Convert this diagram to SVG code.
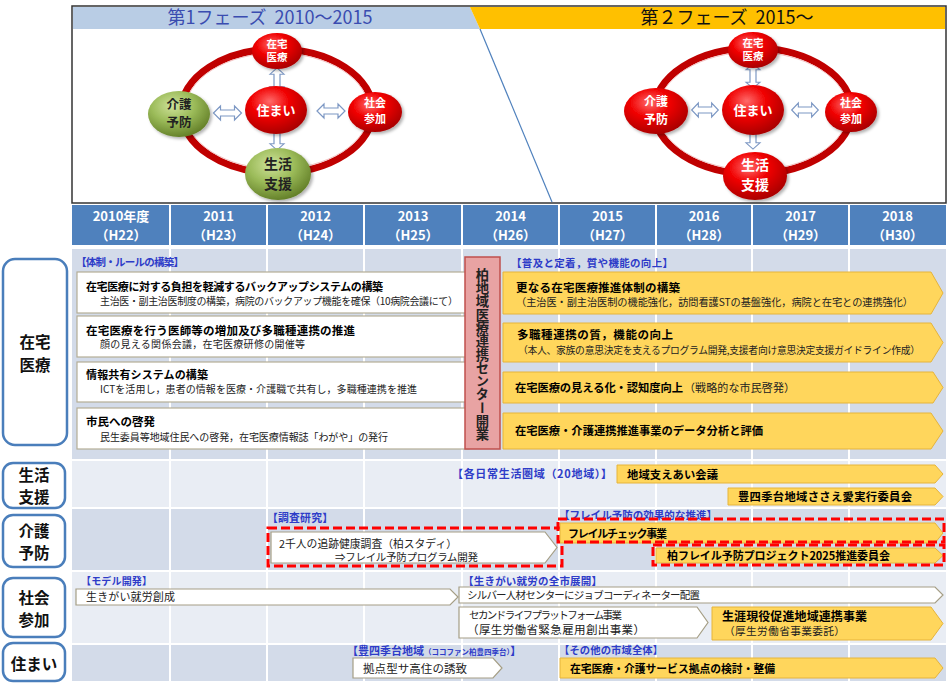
<svg xmlns="http://www.w3.org/2000/svg" width="950" height="683" viewBox="0 0 950 683">
<style>
text{font-family:"Noto Sans CJK JP","Noto Sans",sans-serif;}
.b{font-weight:700}
.lbl{fill:#2e3cc8;font-weight:700}
.yel{fill:#ffd65c;stroke:#e6b43a;stroke-width:1}
.wht{fill:#fff;stroke:#a59e85;stroke-width:1.2}
.box{fill:#fff;stroke:#b4ad96;stroke-width:1.2}
.dash{fill:none;stroke:#ff0000;stroke-width:3;stroke-dasharray:9 4}
.rowlbl{fill:#fff;stroke:#4a7ebb;stroke-width:2.5}
.rl{font-size:15.5px;font-weight:700;fill:#111;text-anchor:middle}
.yr{font-size:13px;font-weight:700;fill:#fff;text-anchor:middle}
.sep{stroke:#fff;stroke-width:2}
.ring{fill:none;stroke:#c00000;stroke-width:7}
.ringhl{fill:none;stroke:#f3c0c0;stroke-width:1}
.dbl{fill:#fff;stroke:#7d98c4;stroke-width:1.2}
.ct{font-weight:700;text-anchor:middle}
.sph{filter:url(#sh)}
</style>
<defs>
<radialGradient id="gr" cx="40%" cy="32%" r="70%">
<stop offset="0" stop-color="#ff6a6a"/><stop offset="0.45" stop-color="#f00000"/><stop offset="1" stop-color="#a80000"/>
</radialGradient>
<radialGradient id="gg" cx="40%" cy="32%" r="70%">
<stop offset="0" stop-color="#cfe29a"/><stop offset="0.5" stop-color="#9bbb59"/><stop offset="1" stop-color="#637f28"/>
</radialGradient>
<filter id="sh" x="-30%" y="-30%" width="160%" height="160%">
<feDropShadow dx="2" dy="2" stdDeviation="1.5" flood-color="#000" flood-opacity="0.3"/>
</filter>
<path id="da" d="M-14,0 L-7,-7 L-7,-3 L7,-3 L7,-7 L14,0 L7,7 L7,3 L-7,3 L-7,7 Z"/>
</defs>

<rect width="950" height="683" fill="#fff"/>

<!-- top panel -->
<g id="phase-panel">
<rect x="72" y="6" width="874" height="197" fill="#fff" stroke="#333" stroke-width="1.5"/>
<polygon points="73,7 470,7 480,29 73,29" fill="#b9cde5"/>
<polygon points="470,7 945,7 945,29 480,29" fill="#ffc000"/>
<line x1="480" y1="29" x2="552" y2="202" stroke="#4f81bd" stroke-width="1.2"/>
<text x="270" y="24" font-size="18" fill="#3a4cb0" text-anchor="middle" xml:space="preserve">第1フェーズ  2010～2015</text>
<text x="727" y="24" font-size="18" fill="#111" text-anchor="middle" xml:space="preserve">第２フェーズ  2015～</text>
</g>

<g id="p1-ring">
<ellipse class="ring" cx="277" cy="111" rx="96" ry="62"/>
<ellipse class="ringhl" cx="277" cy="111" rx="92" ry="58"/>
</g>
<g id="p2-ring">
<ellipse class="ring" cx="753" cy="111" rx="99" ry="63"/>
<ellipse class="ringhl" cx="753" cy="111" rx="95" ry="59"/>
</g>
<g id="connectors">
<use href="#da" class="dbl" transform="translate(277,80.5) rotate(90) scale(0.9,1)"/>
<use href="#da" class="dbl" transform="translate(277,137.5) rotate(90) scale(0.9,1)"/>
<use href="#da" class="dbl" transform="translate(227.5,113)"/>
<use href="#da" class="dbl" transform="translate(331,111)"/>
<use href="#da" class="dbl" transform="translate(753,76) rotate(90) scale(0.88,1)"/>
<use href="#da" class="dbl" transform="translate(753,136.5) rotate(90) scale(0.9,1)"/>
<use href="#da" class="dbl" transform="translate(705,110) scale(0.95,1)"/>
<use href="#da" class="dbl" transform="translate(805,110) scale(0.95,1)"/>
</g>
<g id="p1-zaitaku">
<ellipse class="sph" cx="277" cy="51" rx="25" ry="18" fill="url(#gr)"/>
<text class="ct" x="277" y="48" font-size="10.5" fill="#fff">在宅</text>
<text class="ct" x="277" y="61" font-size="10.5" fill="#fff">医療</text>
</g>
<g id="p1-sumai">
<ellipse class="sph" cx="276" cy="110" rx="31" ry="24" fill="url(#gr)"/>
<text class="ct" x="276" y="115" font-size="13" fill="#fff">住まい</text>
</g>
<g id="p1-kaigo">
<ellipse class="sph" cx="179" cy="114" rx="31" ry="23" fill="url(#gg)"/>
<text class="ct" x="179" y="109" font-size="12.5" fill="#222">介護</text>
<text class="ct" x="179" y="127" font-size="12.5" fill="#222">予防</text>
</g>
<g id="p1-shakai">
<ellipse class="sph" cx="375" cy="112" rx="27" ry="20" fill="url(#gr)"/>
<text class="ct" x="375" y="107" font-size="11" fill="#fff">社会</text>
<text class="ct" x="375" y="123" font-size="11" fill="#fff">参加</text>
</g>
<g id="p1-seikatsu">
<ellipse class="sph" cx="278" cy="174" rx="33" ry="26" fill="url(#gg)"/>
<text class="ct" x="278" y="169" font-size="14" fill="#222">生活</text>
<text class="ct" x="278" y="189" font-size="14" fill="#222">支援</text>
</g>

<g id="p2-zaitaku">
<ellipse class="sph" cx="753" cy="50" rx="25" ry="18" fill="url(#gr)"/>
<text class="ct" x="753" y="47" font-size="10.5" fill="#fff">在宅</text>
<text class="ct" x="753" y="60" font-size="10.5" fill="#fff">医療</text>
</g>
<g id="p2-sumai">
<ellipse class="sph" cx="753" cy="110" rx="31" ry="25" fill="url(#gr)"/>
<text class="ct" x="753" y="115" font-size="13" fill="#fff">住まい</text>
</g>
<g id="p2-kaigo">
<ellipse class="sph" cx="656" cy="111" rx="32" ry="23" fill="url(#gr)"/>
<text class="ct" x="656" y="106" font-size="12" fill="#fff">介護</text>
<text class="ct" x="656" y="124" font-size="12" fill="#fff">予防</text>
</g>
<g id="p2-shakai">
<ellipse class="sph" cx="851" cy="112" rx="26" ry="20" fill="url(#gr)"/>
<text class="ct" x="851" y="107" font-size="11" fill="#fff">社会</text>
<text class="ct" x="851" y="123" font-size="11" fill="#fff">参加</text>
</g>
<g id="p2-seikatsu">
<ellipse class="sph" cx="755" cy="176" rx="32" ry="24" fill="url(#gr)"/>
<text class="ct" x="755" y="170" font-size="14" fill="#fff">生活</text>
<text class="ct" x="755" y="190" font-size="14" fill="#fff">支援</text>
</g>

<!-- year header -->
<g id="years">
<rect x="72" y="205" width="874" height="40" fill="#4f81bd"/>
<line class="sep" x1="170" y1="205" x2="170" y2="245"/>
<line class="sep" x1="267" y1="205" x2="267" y2="245"/>
<line class="sep" x1="364" y1="205" x2="364" y2="245"/>
<line class="sep" x1="462" y1="205" x2="462" y2="245"/>
<line class="sep" x1="559" y1="205" x2="559" y2="245"/>
<line class="sep" x1="656" y1="205" x2="656" y2="245"/>
<line class="sep" x1="752" y1="205" x2="752" y2="245"/>
<line class="sep" x1="849" y1="205" x2="849" y2="245"/>
<text class="yr" x="121" y="221">2010年度</text><text class="yr" x="121" y="240">（H22）</text>
<text class="yr" x="218.5" y="221">2011</text><text class="yr" x="218.5" y="240">（H23）</text>
<text class="yr" x="315.5" y="221">2012</text><text class="yr" x="315.5" y="240">（H24）</text>
<text class="yr" x="413" y="221">2013</text><text class="yr" x="413" y="240">（H25）</text>
<text class="yr" x="510.5" y="221">2014</text><text class="yr" x="510.5" y="240">（H26）</text>
<text class="yr" x="607.5" y="221">2015</text><text class="yr" x="607.5" y="240">（H27）</text>
<text class="yr" x="704" y="221">2016</text><text class="yr" x="704" y="240">（H28）</text>
<text class="yr" x="800.5" y="221">2017</text><text class="yr" x="800.5" y="240">（H29）</text>
<text class="yr" x="897.5" y="221">2018</text><text class="yr" x="897.5" y="240">（H30）</text>
</g>

<!-- body grid -->
<g id="grid">
<rect x="72" y="249" width="874" height="210" fill="#d3dbe9"/>
<rect x="72" y="461" width="874" height="46" fill="#e9edf4"/>
<rect x="72" y="509" width="874" height="61" fill="#d3dbe9"/>
<rect x="72" y="572" width="874" height="71" fill="#e9edf4"/>
<rect x="72" y="645" width="874" height="36" fill="#d3dbe9"/>
<line class="sep" x1="170" y1="249" x2="170" y2="681"/>
<line class="sep" x1="267" y1="249" x2="267" y2="681"/>
<line class="sep" x1="364" y1="249" x2="364" y2="681"/>
<line class="sep" x1="462" y1="249" x2="462" y2="681"/>
<line class="sep" x1="559" y1="249" x2="559" y2="681"/>
<line class="sep" x1="656" y1="249" x2="656" y2="681"/>
<line class="sep" x1="752" y1="249" x2="752" y2="681"/>
<line class="sep" x1="849" y1="249" x2="849" y2="681"/>
</g>

<!-- row labels -->
<g id="row-zaitaku"><rect class="rowlbl" x="3" y="259" width="64" height="186" rx="12"/><text class="rl" x="35" y="348">在宅</text><text class="rl" x="35" y="371">医療</text></g>
<g id="row-seikatsu"><rect class="rowlbl" x="3" y="463" width="62" height="45" rx="10"/><text class="rl" x="34" y="481">生活</text><text class="rl" x="34" y="503">支援</text></g>
<g id="row-kaigo"><rect class="rowlbl" x="3" y="515" width="62" height="52" rx="10"/><text class="rl" x="34" y="537">介護</text><text class="rl" x="34" y="559">予防</text></g>
<g id="row-shakai"><rect class="rowlbl" x="3" y="578" width="62" height="59" rx="10"/><text class="rl" x="34" y="604">社会</text><text class="rl" x="34" y="626">参加</text></g>
<g id="row-sumai"><rect class="rowlbl" x="3" y="643" width="62" height="38" rx="10"/><text class="rl" x="34" y="670">住まい</text></g>

<!-- 在宅医療 left -->
<text class="lbl" x="76" y="266" font-size="10.5" textLength="108">【体制・ルールの構築】</text>
<g id="z1"><rect class="box" x="77" y="272" width="392" height="41"/>
<text class="b" x="86" y="291" font-size="11" textLength="297">在宅医療に対する負担を軽減するバックアップシステムの構築</text>
<text x="100" y="305" font-size="10" fill="#222" textLength="358">主治医・副主治医制度の構築，病院のバックアップ機能を確保（10病院会議にて）</text></g>
<g id="z2"><rect class="box" x="77" y="316" width="392" height="41"/>
<text class="b" x="86" y="335" font-size="11.5" textLength="269">在宅医療を行う医師等の増加及び多職種連携の推進</text>
<text x="100" y="348" font-size="10" fill="#222" textLength="205">顔の見える関係会議，在宅医療研修の開催等</text></g>
<g id="z3"><rect class="box" x="77" y="362" width="392" height="40"/>
<text class="b" x="86" y="379" font-size="11" textLength="122">情報共有システムの構築</text>
<text x="100" y="393" font-size="10" fill="#222" textLength="317">ICTを活用し，患者の情報を医療・介護職で共有し，多職種連携を推進</text></g>
<g id="z4"><rect class="box" x="77" y="408" width="392" height="41"/>
<text class="b" x="86" y="426" font-size="11.5" textLength="69">市民への啓発</text>
<text x="100" y="441" font-size="10" fill="#222" textLength="288">民生委員等地域住民への啓発，在宅医療情報誌「わがや」の発行</text></g>

<!-- center -->
<g id="center">
<rect x="465" y="257" width="35" height="192" fill="#e8a3a3" stroke="#c0504d" stroke-width="1.5"/>
<text x="482.5" y="268" font-size="13.3" class="b" fill="#222" style="writing-mode:vertical-rl;text-orientation:upright">柏地域医療連携センター開業</text>
</g>

<!-- 在宅医療 right -->
<text class="lbl" x="511" y="267" font-size="10.5" textLength="162">【普及と定着，質や機能の向上】</text>
<g id="y1"><polygon class="yel" points="503,272 931,272 943,293 931,314 503,314"/>
<text class="b" x="516" y="292" font-size="11.5" textLength="164">更なる在宅医療推進体制の構築</text>
<text x="516" y="306" font-size="10.2" fill="#222" textLength="397">（主治医・副主治医制の機能強化，訪問看護STの基盤強化，病院と在宅との連携強化）</text></g>
<g id="y2"><polygon class="yel" points="503,323 931,323 943,342.5 931,362 503,362"/>
<text class="b" x="517" y="339" font-size="11.5" textLength="156">多職種連携の質，機能の向上</text>
<text x="518" y="354" font-size="9.8" fill="#222" textLength="402">（本人、家族の意思決定を支えるプログラム開発,支援者向け意思決定支援ガイドライン作成）</text></g>
<g id="y3"><polygon class="yel" points="503,372 933,372 943,387.5 933,403 503,403"/>
<text class="b" x="515" y="392" font-size="11.3" textLength="168">在宅医療の見える化・認知度向上</text>
<text x="684" y="392" font-size="11" fill="#222" textLength="111">（戦略的な市民啓発）</text></g>
<g id="y4"><polygon class="yel" points="503,413 931,413 943,431 931,449 503,449"/>
<text class="b" x="515" y="435" font-size="11.3" textLength="248">在宅医療・介護連携推進事業のデータ分析と評価</text></g>

<!-- 生活支援 -->
<text class="lbl" x="452" y="478" font-size="11" textLength="160">【各日常生活圏域（20地域）】</text>
<g id="s1"><polygon class="yel" points="617,465 935,465 943,474 935,483 617,483"/>
<text class="b" x="627" y="479" font-size="11.3" textLength="91">地域支えあい会議</text></g>
<g id="s2"><polygon class="yel" points="728,488 935,488 943,496.5 935,505 728,505"/>
<text class="b" x="738" y="501" font-size="11.3" textLength="174">豊四季台地域ささえ愛実行委員会</text></g>

<!-- 介護予防 -->
<text class="lbl" x="267" y="522" font-size="10.8" textLength="66">【調査研究】</text>
<text class="lbl" x="559" y="519" font-size="10.5" textLength="158">【フレイル予防の効果的な推進】</text>
<g id="k1"><polygon class="wht" points="271,532 545,532 557,547.5 545,563 271,563"/>
<text x="279" y="548" font-size="10.8" fill="#222" textLength="178">2千人の追跡健康調査（柏スタディ）</text>
<text x="335" y="561" font-size="10.5" fill="#222" textLength="143">⇒フレイル予防プログラム開発</text></g>
<rect class="dash" x="268" y="528" width="294" height="38"/>
<g id="k2"><polygon class="yel" points="560,523 935,523 943,533 935,543 560,543"/>
<text class="b" x="568" y="538" font-size="11" textLength="99">フレイルチェック事業</text></g>
<rect class="dash" x="558" y="519" width="386" height="23"/>
<g id="k3"><polygon class="yel" points="656,548 935,548 943,555.5 935,563 656,563"/>
<text class="b" x="667" y="560" font-size="11" textLength="223">柏フレイル予防プロジェクト2025推進委員会</text></g>
<rect class="dash" x="653" y="545" width="291" height="20"/>

<!-- 社会参加 -->
<text class="lbl" x="81" y="585" font-size="10" textLength="71">【モデル開発】</text>
<text class="lbl" x="463" y="585" font-size="10.5" textLength="139">【生きがい就労の全市展開】</text>
<g id="g1"><polygon class="wht" points="76,589 450,589 458,597 450,605 76,605"/>
<text x="86" y="601" font-size="11" fill="#222" textLength="89">生きがい就労創成</text></g>
<g id="g2"><polygon class="wht" points="459,587 935,587 943,595 935,603 459,603"/>
<text x="467" y="599" font-size="10.5" fill="#222" textLength="233">シルバー人材センターにジョブコーディネーター配置</text></g>
<g id="g3"><polygon class="wht" points="459,607 697,607 708,622.5 697,638 459,638"/>
<text x="469" y="619" font-size="10.5" fill="#222" textLength="153">セカンドライフプラットフォーム事業</text>
<text x="467" y="634" font-size="11.5" fill="#222" textLength="178">（厚生労働省緊急雇用創出事業）</text></g>
<g id="g4"><polygon class="yel" points="712,607 931,607 943,623.5 931,640 712,640"/>
<text class="b" x="722" y="621" font-size="12" textLength="145">生涯現役促進地域連携事業</text>
<text x="724" y="635" font-size="10.7" fill="#222" textLength="121">（厚生労働省事業委託）</text></g>

<!-- 住まい -->
<text class="lbl" x="347" y="655" font-size="11"><tspan>【豊四季台地域</tspan><tspan font-size="7.5">（ココファン柏豊四季台）</tspan><tspan>】</tspan></text>
<text class="lbl" x="559" y="654" font-size="10.3" textLength="104">【その他の市域全体】</text>
<g id="h1"><polygon class="wht" points="353,658 493,658 502,668 493,678 353,678"/>
<text x="363" y="673" font-size="11.5" fill="#222" textLength="104">拠点型サ高住の誘致</text></g>
<g id="h2"><polygon class="yel" points="560,658 935,658 943,668 935,678 560,678"/>
<text class="b" x="570" y="673" font-size="10.8" textLength="205">在宅医療・介護サービス拠点の検討・整備</text></g>
</svg>
